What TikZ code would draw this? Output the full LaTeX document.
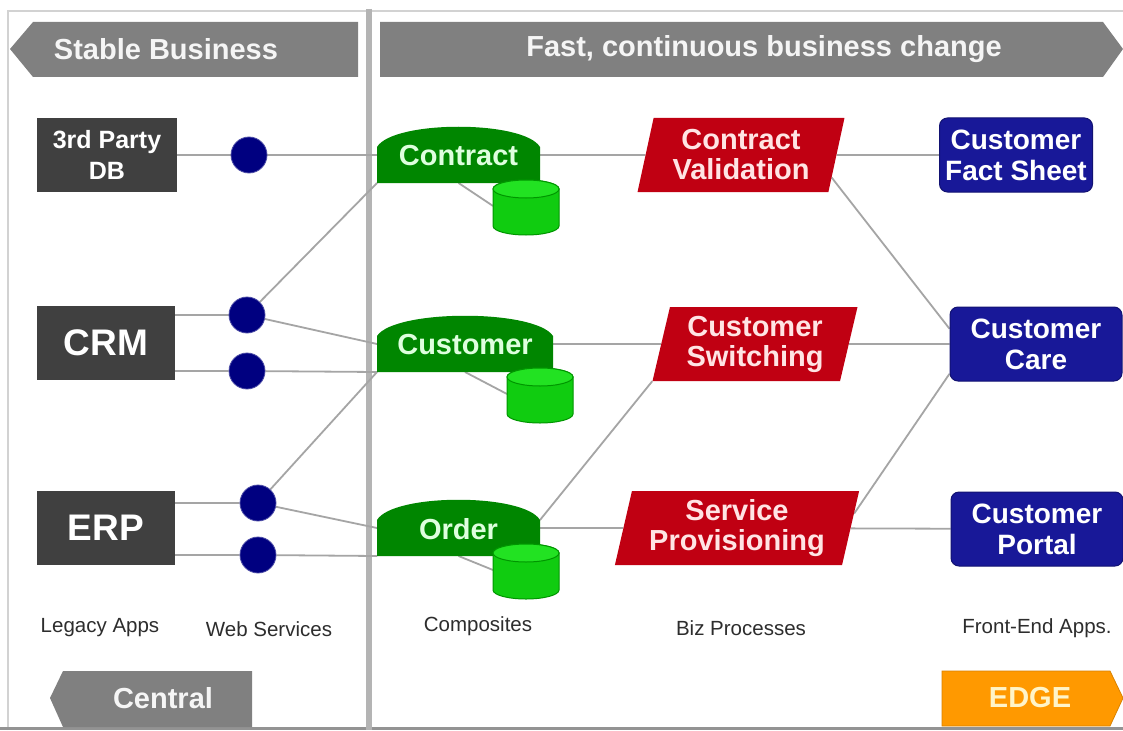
\documentclass[tikz,border=0pt]{standalone}
\usepackage{fontspec}
\setmainfont{Liberation Sans}
\usetikzlibrary{shapes.geometric,backgrounds,calc}

\definecolor{bannergray}{RGB}{128,128,128}
\definecolor{darkbox}{RGB}{64,64,64}
\definecolor{navydot}{RGB}{0,0,128}
\definecolor{compgreen}{RGB}{0,134,0}
\definecolor{comptext}{RGB}{222,255,222}
\definecolor{cylgreen}{RGB}{16,204,16}
\definecolor{cyltopgreen}{RGB}{34,226,34}
\definecolor{cyledge}{RGB}{0,150,0}
\definecolor{procred}{RGB}{192,0,18}
\definecolor{proctext}{RGB}{255,228,228}
\definecolor{feblue}{RGB}{24,24,152}
\definecolor{edgeorange}{RGB}{255,153,0}
\definecolor{edgetext}{RGB}{255,244,200}
\definecolor{linkgray}{RGB}{165,165,165}
\definecolor{dividergray}{RGB}{180,180,180}
\definecolor{framegray}{RGB}{210,210,210}
\definecolor{captiongray}{RGB}{45,45,45}

\tikzset{
  link/.style={draw=linkgray, line width=1.8},
  legacy/.style={fill=darkbox, text=white, align=center, inner sep=0,
    minimum width=138, minimum height=74},
  ws/.style={circle, fill=navydot, draw=navydot!70!white, line width=0.8,
    minimum size=36, inner sep=0},
  proc/.style={trapezium, trapezium left angle=76, trapezium right angle=104,
    trapezium stretches=true, fill=procred, text=proctext, align=center,
    inner sep=0, minimum height=74,
    font=\bfseries\fontsize{29}{30}\selectfont},
  front/.style={rounded corners=8, fill=feblue, draw=feblue!75!black,
    line width=1, text=white, align=center, inner sep=0, minimum height=74,
    font=\bfseries\fontsize{28}{31}\selectfont},
  caption/.style={text=captiongray, font=\fontsize{20.5}{22}\selectfont},
  bannertext/.style={text=white!96!black, font=\bfseries\fontsize{29}{30}\selectfont},
  comptext/.style={text=comptext, inner sep=0, font=\bfseries\fontsize{29}{30}\selectfont},
  cylbody/.style={fill=cylgreen, draw=cyledge, line width=1},
  cyltop/.style={fill=cyltopgreen, draw=cyledge, line width=1},
  % composite: label, width, cylinder left offset, cylinder top offset
  pics/composite/.style n args={4}{code={
    \coordinate (-bl) at (0,0);
    \coordinate (-in1) at (0,-28);
    \coordinate (-out) at (#2,-28);
    \coordinate (-tr) at (#2,-36);
    \coordinate (-cyl) at (#3,#4+26);
    \draw[link] (0.5*#2,0) -- (-cyl);
    \fill[compgreen] (0,0) -- (0,-36)
      .. controls (0.1*#2,-63) and (0.9*#2,-63) .. (#2,-36) -- (#2,0) -- cycle;
    \node[comptext] (-lbl) at (0.5*#2,-27) {#1};
    \draw[cylbody] (#3,#4+9) -- (#3,#4+46)
      arc[start angle=180, end angle=0, x radius=33, y radius=9]
      -- (#3+66,#4+9)
      arc[start angle=0, end angle=-180, x radius=33, y radius=9] -- cycle;
    \draw[cyltop] (#3+33,#4+9) ellipse[x radius=33, y radius=9];
  }}
}

\begin{document}
\begin{tikzpicture}[x=1pt, y=-1pt]
\useasboundingbox (0,0) rectangle (1123,730);

\begin{scope}[on background layer]
  \fill[white] (0,0) rectangle (1123,730);
  % outer frame
  \draw[framegray, line width=1.5] (8,730) -- (8,11) -- (1123,11);
  \draw[gray!85, line width=3] (0,728) -- (1123,728);
  % column divider
  \draw[dividergray, line width=6] (369,9) -- (369,730);
\end{scope}

% banners
\fill[bannergray] (10,49) -- (33,22) -- (358,22) -- (358,77) -- (33,77) -- cycle;
\node[bannertext] (stable) at (166,49) {Stable Business};
\fill[bannergray] (380,22) -- (1103,22) -- (1123,49) -- (1103,77) -- (380,77) -- cycle;
\node[bannertext] (fast) at (764,49) {Fast, continuous business change};
\fill[bannergray] (50,698) -- (63,671) -- (252,671) -- (252,727) -- (63,727) -- cycle;
\node[bannertext] (central) at (163,698) {Central};
\fill[edgeorange, draw=edgeorange!85!black, line width=0.8]
  (942,671) -- (1110,671) -- (1123,698) -- (1110,726) -- (942,726) -- cycle;
\node[bannertext, text=edgetext] (edge) at (1030,698) {EDGE};

% legacy applications
\node[legacy, minimum width=140, font=\bfseries\fontsize{25}{31}\selectfont]
  (db) at (107,155) {3rd Party\\DB};
\node[legacy, font=\bfseries\fontsize{37}{40}\selectfont] (crm) at (106,343) {CRM};
\node[legacy, font=\bfseries\fontsize{37}{40}\selectfont] (erp) at (106,528) {ERP};

% web services
\node[ws] (w1) at (249,155) {};
\node[ws] (w2) at (247,315) {};
\node[ws] (w3) at (247,371) {};
\node[ws] (w4) at (258,503) {};
\node[ws] (w5) at (258,555) {};

% composites
\pic (ctr) at (377,183) {composite={Contract}{163}{116}{-3}};
\pic (cus) at (377,372) {composite={Customer}{176}{130}{-4}};
\pic (ord) at (377,556) {composite={Order}{163}{116}{-12}};

% business processes
\node[proc, minimum width=207] (cv) at (741,155) {Contract\\Validation};
\node[proc, minimum width=205] (cs) at (755,344) {Customer\\Switching};
\node[proc, minimum width=245] (sp) at (737,528) {Service\\Provisioning};

% front-end applications
\node[front, minimum width=153] (cfs) at (1016,155) {Customer\\Fact Sheet};
\node[front, minimum width=172] (cc) at (1036,344) {Customer\\Care};
\node[front, minimum width=172] (cp) at (1037,529) {Customer\\Portal};

% column captions
\node[caption] (capLegacy) at (100,628) {Legacy Apps};
\node[caption] (capWS) at (269,629) {Web Services};
\node[caption] (capComp) at (478,626) {Composites};
\node[caption] (capBiz) at (741,628) {Biz Processes};
\node[caption] (capFront) at (1037,628) {Front-End Apps.};

% connectors
\begin{scope}[on background layer]
  \draw[link] (db) -- (w1) -- (ctr-in1);
  \draw[link] (crm.east |- w2) -- (w2);
  \draw[link] (w2) -- (ctr-bl);
  \draw[link] (w2) -- (cus-in1);
  \draw[link] (crm.east |- w3) -- (w3) -- (cus-bl);
  \draw[link] (cus-bl) -- (w4);
  \draw[link] (erp.east |- w4) -- (w4) -- (ord-in1);
  \draw[link] (erp.east |- w5) -- (w5) -- (ord-bl);
  \draw[link] (ctr-out) -- (cv);
  \draw[link] (cus-out) -- (cs);
  \draw[link] (ord-out) -- (sp);
  \draw[link] (ord-tr) -- (cs.bottom left corner);
  \draw[link] (cv) -- (cfs);
  \draw[link] (cv.-14) -- (cc.170);
  \draw[link] (cs) -- (cc);
  \draw[link] (sp.7) -- (cc.199);
  \draw[link] (sp) -- (cp);
\end{scope}
\end{tikzpicture}
\end{document}
